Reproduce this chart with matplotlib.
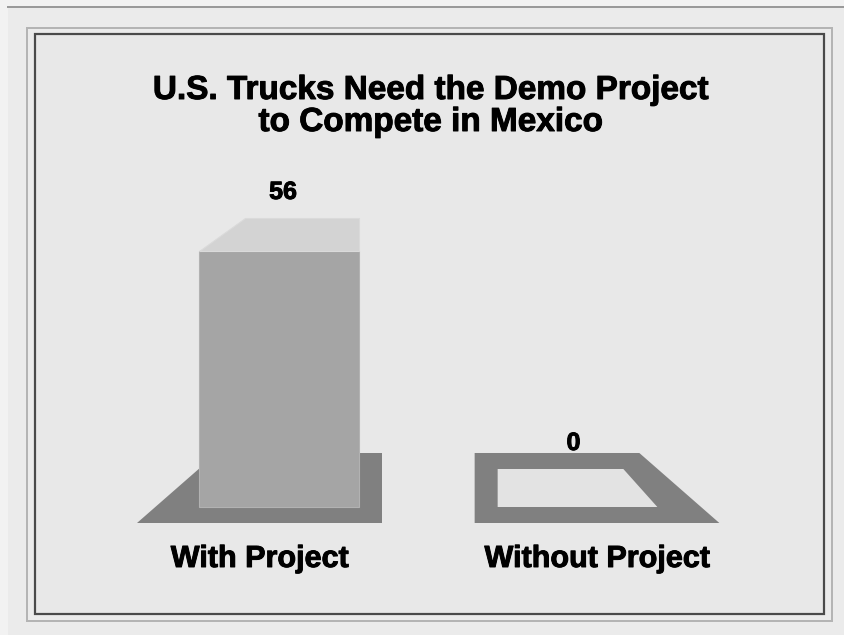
"""
3D-style bar chart: U.S. trucks with / without the demo project
"""

import matplotlib
matplotlib.use('Agg')
import matplotlib.pyplot as plt
import matplotlib.patheffects as pe
from matplotlib.patches import Polygon, Rectangle
from matplotlib.lines import Line2D
from matplotlib.transforms import IdentityTransform

# data
categories = ['With Project', 'Without Project']
values = [56, 0]
title_lines = ['U.S. Trucks Need the Demo Project', 'to Compete in Mexico']

# colours
OUTSIDE = '#f2f2f2'
PAGE = '#ebebeb'
PANEL = '#e8e8e8'
FRONT = '#a5a5a5'
TOP = '#d3d3d3'
FLOOR = '#808080'
FOOT = '#e3e3e3'

W, H = 844, 635
BAR_W = 0.535   # bar width in category units
FONT = 'Liberation Sans'
# slightly heavier lettering, as in the original
HEAVY = [pe.withStroke(linewidth=0.7, foreground='black')]


def px(v):
    """pixels -> points at 100 dpi"""
    return v * 72.0 / 100


def draw_box(ax, i, value, vmax, side):
    """
        draws one pseudo-3D bar with its floor plate,
        side=+1 tapers the back towards the right, -1 towards the left
    """
    ident = IdentityTransform()
    x0, y0 = ax.transData.transform((i - BAR_W / 2, 0))
    x1, y1 = ax.transData.transform((i + BAR_W / 2, value))

    # floor plate
    d0, t0 = 38, 34
    back = y0 + d0 + 16
    front = y0 - 16
    if side > 0:
        floor = [(x0 - 62, front), (x1 + 23, front), (x1 + 23, back), (x0 + t0 - 16, back)]
    else:
        floor = [(x0 - 23, front), (x1 + 62, front), (x1 - t0 + 16, back), (x0 - 23, back)]
    ax.add_patch(Polygon(floor, closed=True, fc=FLOOR, ec='none', transform=ident))

    # front face
    if value > 0:
        ax.add_patch(Rectangle((x0, y0), x1 - x0, y1 - y0, fc=FRONT, ec='#b2b2b2',
                               lw=0.8, transform=ident))

    # top face
    frac = value / vmax
    depth = d0 - 5 * frac
    taper = t0 + 12 * frac
    if side > 0:
        top = [(x0, y1), (x1, y1), (x1, y1 + depth), (x0 + taper, y1 + depth)]
    else:
        top = [(x0, y1), (x1, y1), (x1 - taper, y1 + depth), (x0, y1 + depth)]
    ax.add_patch(Polygon(top, closed=True, fc=TOP if value > 0 else FOOT,
                         ec='#dadada' if value > 0 else 'none', lw=0.8, transform=ident))

    # value label above the back edge
    ax.text((x0 + x1) / 2 + 4 * side, y1 + depth + 19, str(value), transform=ident,
            ha='center', va='baseline', fontsize=18, fontweight='bold', family=FONT,
            path_effects=HEAVY)

    # category label centred under the floor plate
    fx = (floor[0][0] + floor[1][0]) / 2
    ax.text(fx, front - 44, categories[i], transform=ident,
            ha='center', va='baseline', fontsize=22, fontweight='bold', family=FONT,
            path_effects=HEAVY)


def draw_frame(fig):
    """page background, top rule and the double border"""
    ident = IdentityTransform()
    fig.add_artist(Rectangle((8, 0), W - 8, H - 7, fc=PAGE, ec='none', transform=ident,
                             zorder=-3))
    fig.add_artist(Line2D([8, W], [H - 7, H - 7], color='#9a9a9a', lw=px(2), transform=ident,
                          zorder=-2))
    fig.add_artist(Rectangle((27, H - 621), 832 - 27, 621 - 28, fc='none', ec='#b4b4b4',
                             lw=px(2), transform=ident, zorder=-2))
    fig.add_artist(Rectangle((35, H - 614), 824 - 35, 614 - 34, fc=PANEL, ec='#4a4a4a',
                             lw=px(2.2), transform=ident, zorder=-2))


if __name__ == '__main__':
    fig = plt.figure(figsize=(W / 100, H / 100), dpi=100, facecolor=OUTSIDE)
    draw_frame(fig)

    ax = fig.add_axes([0, 0, 1, 1])
    ax.set_zorder(5)
    ax.set_xlim(-0.9347, 1.8928)
    ax.set_ylim(-28.0, 110.9)
    ax.axis('off')

    mid = (len(values) - 1) / 2
    for i, v in enumerate(values):
        draw_box(ax, i, v, max(values), 1 if i < mid else -1)

    # title, two lines
    fig.text(431 / W, (H - 99) / H, title_lines[0], ha='center', va='baseline',
             fontsize=24, fontweight='bold', family=FONT, path_effects=HEAVY)
    fig.text(431 / W, (H - 131) / H, title_lines[1], ha='center', va='baseline',
             fontsize=24, fontweight='bold', family=FONT, path_effects=HEAVY)

    plt.savefig('out.png', dpi=100, facecolor=fig.get_facecolor())
